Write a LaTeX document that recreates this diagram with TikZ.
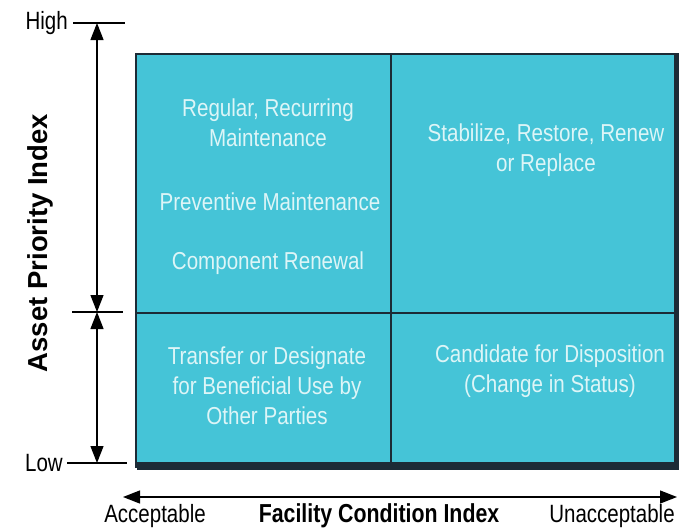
\documentclass[tikz,border=0pt]{standalone}
\usepackage{fontspec}
\setmainfont{Liberation Sans}
\newfontfamily\condfont[FakeStretch=0.84]{Liberation Sans}
\newfontfamily\axisfont[FakeStretch=0.82]{Liberation Sans}
\usetikzlibrary{arrows.meta}
\definecolor{cellcyan}{HTML}{45C4D7}
\definecolor{celltext}{HTML}{DDF5F7}
\definecolor{boxline}{HTML}{1C2B36}
\tikzset{
  cell/.style={draw=boxline, line width=1.6pt, fill=cellcyan, inner sep=0pt, anchor=north west},
  celltxt/.style={text=celltext, align=center, inner sep=0pt, font=\condfont\fontsize{24.5}{30}\selectfont},
  axislabel/.style={inner sep=0pt, font=\axisfont\fontsize{25}{26}\selectfont},
  tick/.style={line width=1.3pt},
  dim/.style={line width=1.3pt, {Triangle[length=17pt,width=13pt]}-{Triangle[length=17pt,width=13pt]}}
}
\begin{document}
\begin{tikzpicture}[x=1pt,y=-1pt]
\useasboundingbox (0,0) rectangle (681,531);
% cells
\node[cell, minimum width=255pt, minimum height=259pt] (tl) at (135,53) {};
\node[cell, minimum width=287pt, minimum height=259pt] (tr) at (390,53) {};
\node[cell, minimum width=255pt, minimum height=154pt] (bl) at (135,312) {};
\node[cell, minimum width=287pt, minimum height=154pt] (br) at (390,312) {};
% shadow bands
\fill[boxline] (137,462) rectangle (679,470);
\fill[boxline] (674,55) rectangle (679,470);
% cell texts
\node[celltxt] (t1) at (268,123) {Regular, Recurring\\Maintenance};
\node[celltxt] (t2) at (270,202) {Preventive Maintenance};
\node[celltxt] (t3) at (268,263) {Component Renewal};
\node[celltxt] (t4) at (546,150) {Stabilize, Restore, Renew\\or Replace};
\node[celltxt] (t5) at (267,386) {Transfer or Designate\\for Beneficial Use by\\Other Parties};
\node[celltxt] (t6) at (550,371) {Candidate for Disposition\\(Change in Status)};
% vertical axis
\coordinate (hi) at (97,23);
\coordinate (mid) at (97,312);
\coordinate (lo) at (97,463);
\coordinate (hiL) at (73,23);
\coordinate (hiR) at (125,23);
\coordinate (midL) at (72,312);
\coordinate (midR) at (123,312);
\coordinate (loL) at (67,463);
\coordinate (loR) at (127,463);
\draw[tick] (hiL) -- (hiR);
\draw[tick] (midL) -- (midR);
\draw[tick] (loL) -- (loR);
\draw[dim] (hi) -- (mid);
\draw[dim] (mid) -- (lo);
\node[axislabel, anchor=east] (high) at (68,23) {High};
\node[axislabel, anchor=east] (low) at (63,463) {Low};
\node[inner sep=0pt, rotate=90, font=\bfseries\fontsize{27.5}{30}\selectfont] (api) at (40,243) {Asset Priority Index};
% horizontal axis
\coordinate (al) at (123,497);
\coordinate (ar) at (677,497);
\draw[dim] (al) -- (ar);
\node[axislabel] (acc) at (155,516) {Acceptable};
\node[axislabel] (unacc) at (612,516) {Unacceptable};
\node[inner sep=0pt, font=\axisfont\bfseries\fontsize{26}{28}\selectfont] (fci) at (379,516) {Facility Condition Index};
\end{tikzpicture}
\end{document}
